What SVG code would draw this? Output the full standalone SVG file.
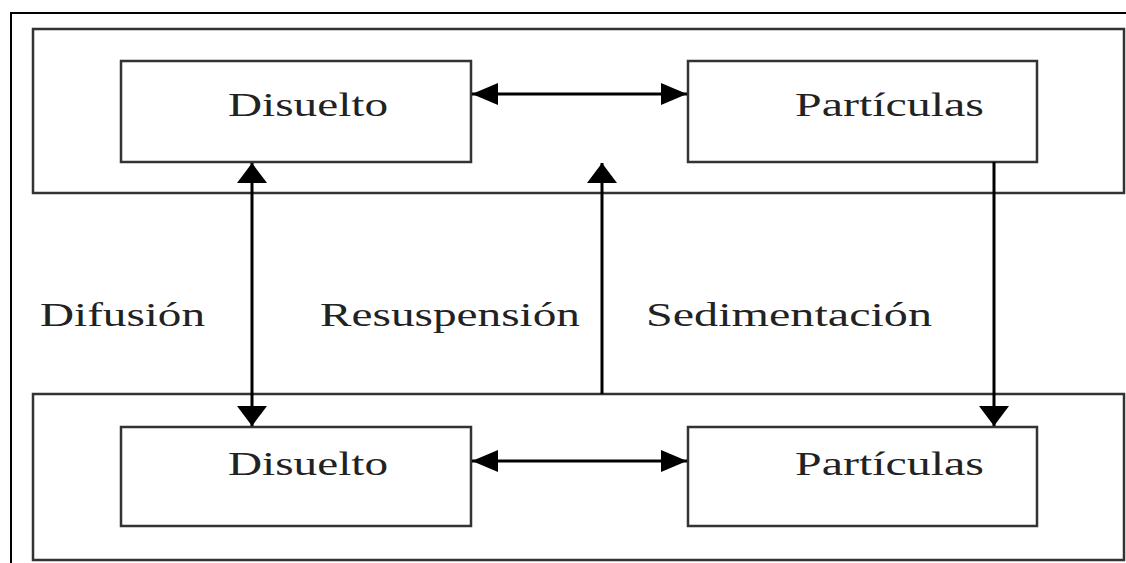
<svg xmlns="http://www.w3.org/2000/svg" width="1126" height="563" viewBox="0 0 1126 563">
<defs>
<style>
.frame{fill:none;stroke:#000;stroke-width:2}
.box{fill:none;stroke:#333;stroke-width:2.5}
.line{fill:none;stroke:#000;stroke-width:3}
.lbl{font-family:"Liberation Serif","Times New Roman",serif;font-size:34px;fill:#222}
</style>
<marker id="ah" viewBox="0 0 10 10" refX="10" refY="5" markerWidth="8" markerHeight="8" markerUnits="userSpaceOnUse" orient="auto-start-reverse">
<path d="M0,0 L10,5 L0,10 Z" fill="#000"/>
</marker>
<marker id="ahv" viewBox="0 0 20 30" refX="20" refY="15" markerWidth="20" markerHeight="30" markerUnits="userSpaceOnUse" orient="auto-start-reverse">
<path d="M0,0 L20,15 L0,30 Z" fill="#000"/>
</marker>
<marker id="ahh" viewBox="0 0 26 22" refX="26" refY="11" markerWidth="26" markerHeight="22" markerUnits="userSpaceOnUse" orient="auto-start-reverse">
<path d="M0,0 L26,11 L0,22 Z" fill="#000"/>
</marker>
</defs>
<rect width="1126" height="563" fill="#fff"/>
<path class="frame" d="M11,563 V13 H1126"/>
<g id="top-container"><rect class="box" x="33" y="29" width="1091" height="164"/></g>
<g id="bottom-container"><rect class="box" x="33" y="394" width="1091" height="166"/></g>
<g id="top-disuelto"><rect class="box" x="121" y="61" width="350" height="101"/><text class="lbl" x="228" y="116" textLength="160" lengthAdjust="spacingAndGlyphs">Disuelto</text></g>
<g id="top-particulas"><rect class="box" x="688" y="61" width="349" height="101"/><text class="lbl" x="795" y="116" textLength="189" lengthAdjust="spacingAndGlyphs">Partículas</text></g>
<g id="bottom-disuelto"><rect class="box" x="121" y="427" width="350" height="99"/><text class="lbl" x="228" y="475" textLength="160" lengthAdjust="spacingAndGlyphs">Disuelto</text></g>
<g id="bottom-particulas"><rect class="box" x="688" y="427" width="349" height="99"/><text class="lbl" x="795" y="475" textLength="189" lengthAdjust="spacingAndGlyphs">Partículas</text></g>
<g id="labels">
<text class="lbl" x="40" y="326" textLength="165" lengthAdjust="spacingAndGlyphs">Difusión</text>
<text class="lbl" x="320" y="326" textLength="260" lengthAdjust="spacingAndGlyphs">Resuspensión</text>
<text class="lbl" x="646" y="326" textLength="286" lengthAdjust="spacingAndGlyphs">Sedimentación</text>
</g>
<g id="connectors">
<line class="line" x1="472" y1="94" x2="687" y2="94" marker-start="url(#ahh)" marker-end="url(#ahh)"/>
<line class="line" x1="472" y1="461" x2="687" y2="461" marker-start="url(#ahh)" marker-end="url(#ahh)"/>
<line class="line" x1="252" y1="163" x2="252" y2="426" marker-start="url(#ahv)" marker-end="url(#ahv)"/>
<line class="line" x1="602" y1="394" x2="602" y2="163" marker-end="url(#ahv)"/>
<line class="line" x1="994" y1="162" x2="994" y2="426" marker-end="url(#ahv)"/>
</g>
</svg>
